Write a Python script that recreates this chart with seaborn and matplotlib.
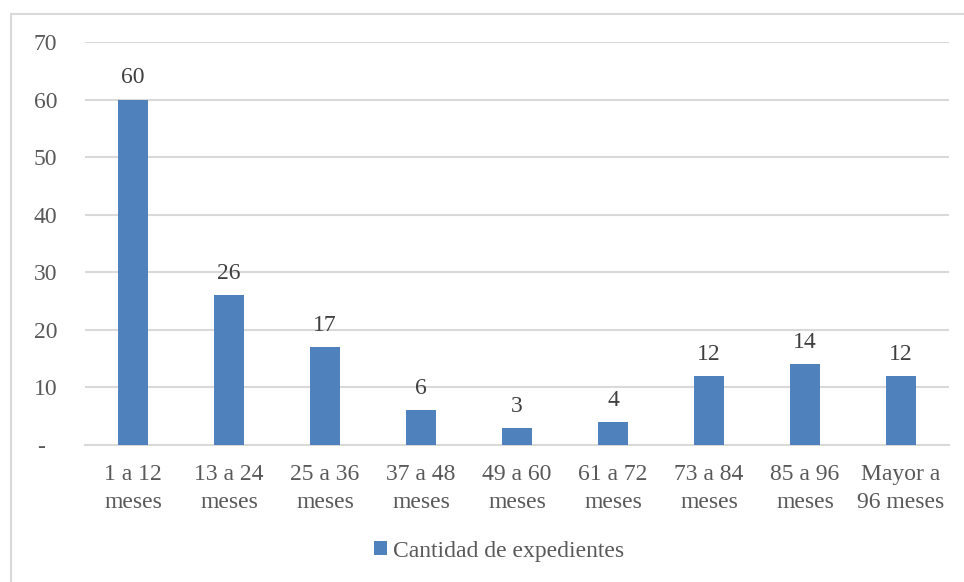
import matplotlib
matplotlib.use("Agg")
import matplotlib.pyplot as plt
import matplotlib.ticker as mticker
from matplotlib.patches import Rectangle, Patch
import seaborn as sns
import pandas as pd

# Data
categorias = ["1 a 12\nmeses", "13 a 24\nmeses", "25 a 36\nmeses", "37 a 48\nmeses",
              "49 a 60\nmeses", "61 a 72\nmeses", "73 a 84\nmeses", "85 a 96\nmeses",
              "Mayor a\n96 meses"]
expedientes = [60, 26, 17, 6, 3, 4, 12, 14, 12]
serie = "Cantidad de expedientes"
y_ticks = [0, 10, 20, 30, 40, 50, 60, 70]

sns.set_theme(style="white")
plt.rcParams["font.family"] = ["Liberation Serif", "DejaVu Serif"]

TEXT = "#595959"
GRID = "#D9D9D9"
BAR = "#4F81BD"
FS = 17

df = pd.DataFrame({"categoria": categorias, "valor": expedientes})

fig = plt.figure(figsize=(9.64, 5.82), dpi=100)
ax = fig.add_axes([85 / 964, 1 - 445 / 582, (949 - 85) / 964, (445 - 42) / 582])

sns.barplot(data=df, x="categoria", y="valor", color=BAR, width=0.31,
            saturation=1, linewidth=0, ax=ax, zorder=3)

ax.set_ylim(0, 70)
ax.set_yticks(y_ticks)
ax.yaxis.set_major_formatter(mticker.FuncFormatter(
    lambda v, _: "-  " if v == 0 else f"{int(v)}"))
ax.grid(axis="y", color=GRID, linewidth=1.5, zorder=0)
ax.set_axisbelow(True)
for side in ["top", "right", "left"]:
    ax.spines[side].set_visible(False)
ax.spines["bottom"].set_color(GRID)
ax.spines["bottom"].set_linewidth(1.5)
ax.set_xlabel("")
ax.set_ylabel("")
ax.tick_params(axis="y", length=0, pad=20, labelsize=FS, labelcolor=TEXT)
ax.tick_params(axis="x", length=0, pad=14, labelsize=FS, labelcolor=TEXT)
for lbl in ax.get_xticklabels():
    lbl.set_linespacing(1.38)

for cont in ax.containers:
    ax.bar_label(cont, labels=[str(v) for v in expedientes], padding=8,
                 fontsize=FS, color="#404040")

# Legend below the plot
handle = Patch(facecolor=BAR, edgecolor="none")
fig.legend([handle], [serie], loc="center", bbox_to_anchor=(499 / 964, 1 - 551 / 582),
           frameon=False, fontsize=FS, handlelength=0.55, handleheight=0.55,
           handletextpad=0.25, labelcolor=TEXT)

# Chart area border
fig.patches.append(Rectangle((10.5 / 964, -0.1), 1.2, 1.1 - 13.5 / 582,
                             transform=fig.transFigure, fill=False,
                             edgecolor=GRID, linewidth=1.5, zorder=0))

fig.savefig("out.png", dpi=100)
